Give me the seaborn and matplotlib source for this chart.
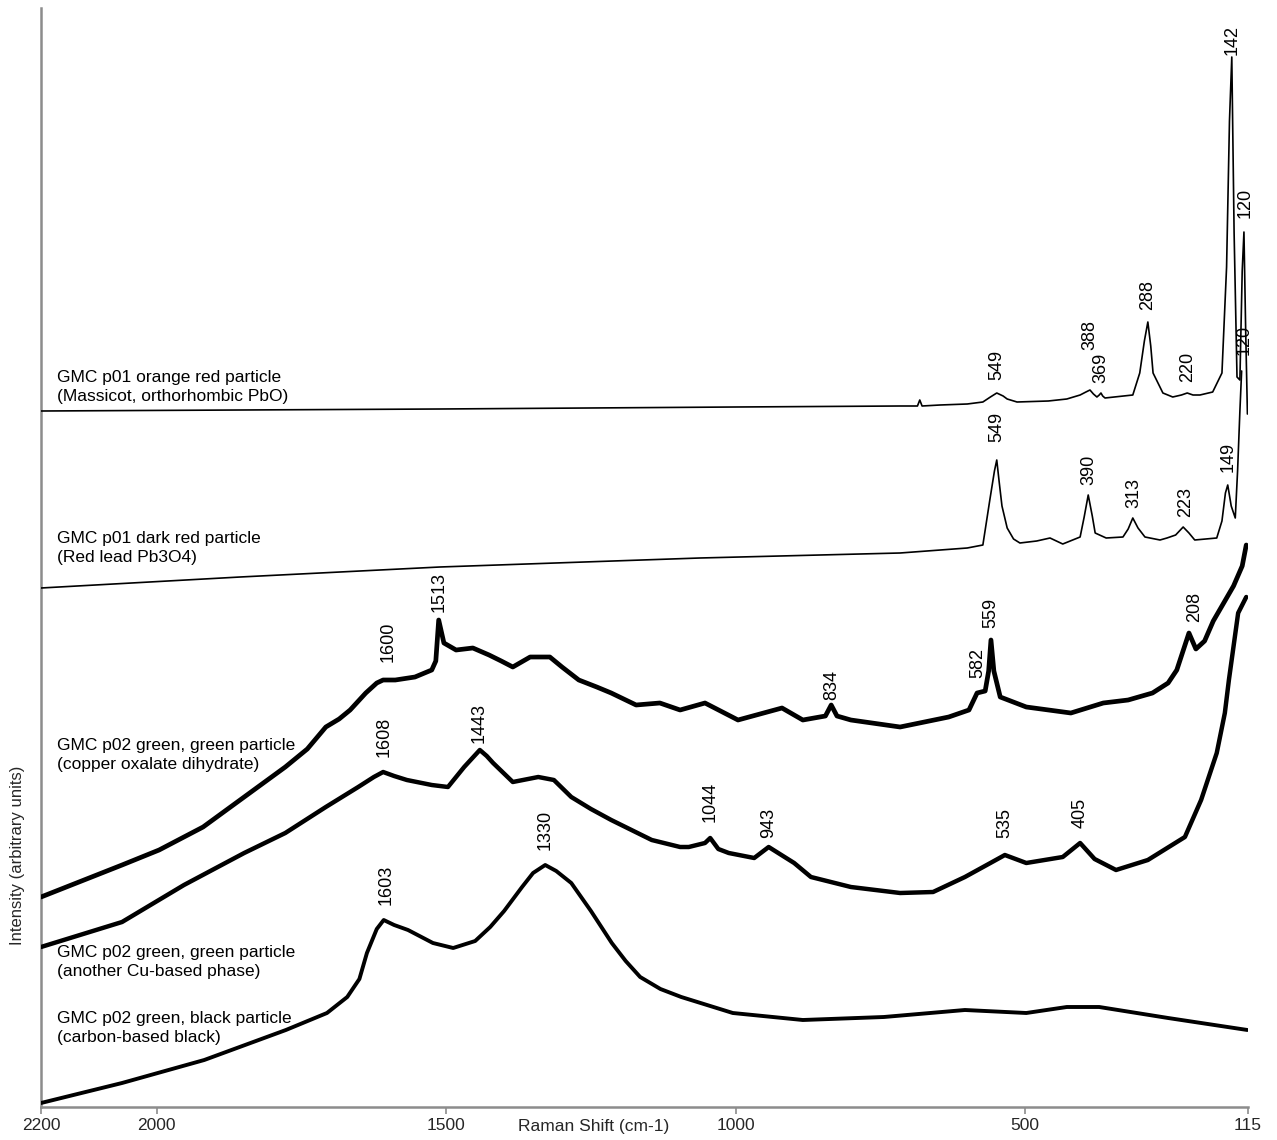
import numpy as np
import pandas as pd
import matplotlib
matplotlib.use("Agg")
import matplotlib.pyplot as plt
import seaborn as sns

# ---------------- data ----------------
# Raman shift (cm-1) and offset intensity (arbitrary units) for each spectrum

# GMC p01 orange red particle (Massicot)
massicot_shift = [2200, 1856, 1511, 1000, 716, 686, 682, 678, 647, 600, 573, 560, 549, 538,
                  531, 514, 460, 428, 405, 395, 388, 382, 376, 372, 369, 366, 362, 314, 302,
                  294, 288, 283, 279, 262, 245, 230, 220, 210, 198, 176, 160, 152, 147, 143,
                  139, 134, 129, 125, 122, 119, 116]
massicot_int = [700, 701, 702, 704, 705, 705, 711, 705, 706, 707, 709, 714, 718, 715,
                712, 709, 710, 712, 716, 719, 721, 717, 714, 716, 718, 715, 713, 716, 738,
                770, 789, 765, 738, 718, 714, 716, 718, 716, 716, 719, 738, 844, 990, 1054,
                878, 734, 731, 840, 879, 780, 697]

# GMC p01 dark red particle (Red lead)
redlead_shift = [2200, 1856, 1511, 1062, 716, 600, 573, 561, 553, 549, 545, 540, 531, 520,
                 509, 480, 457, 435, 405, 398, 391, 384, 379, 360, 331, 322, 314, 305, 293,
                 267, 255, 240, 227, 217, 207, 169, 160, 154, 150, 144, 137, 133, 129, 126]
redlead_int = [523, 534, 544, 553, 558, 563, 566, 611, 640, 651, 630, 605, 583, 572,
               568, 570, 573, 567, 574, 594, 616, 595, 578, 573, 574, 582, 593, 583, 574,
               571, 573, 576, 584, 578, 571, 573, 590, 618, 626, 605, 593, 640, 700, 740]

# GMC p02 green, green particle (copper oxalate dihydrate)
oxalate_shift = [2200, 2060, 1996, 1920, 1849, 1778, 1740, 1708, 1685, 1666, 1639, 1620, 1609,
                 1588, 1554, 1525, 1518, 1513, 1504, 1483, 1454, 1426, 1405, 1385, 1355, 1321,
                 1300, 1271, 1240, 1215, 1172, 1131, 1096, 1053, 996, 920, 884, 845, 835, 825,
                 801, 716, 632, 597, 583, 569, 563, 559, 554, 543, 498, 421, 365, 322, 280,
                 253, 238, 217, 205, 190, 175, 160, 140, 125, 118]
oxalate_int = [214, 246, 261, 284, 314, 344, 362, 384, 392, 401, 418, 428, 431,
               431, 434, 441, 450, 491, 468, 461, 463, 456, 450, 444, 454, 454,
               444, 431, 424, 418, 406, 408, 401, 408, 391, 403, 391, 395, 406, 395,
               391, 384, 394, 401, 418, 420, 440, 471, 440, 414, 404, 398, 408, 411, 418,
               428, 441, 478, 462, 470, 490, 505, 525, 545, 566]

# GMC p02 green, green particle (another Cu-based phase)
cuphase_shift = [2200, 2060, 1953, 1849, 1778, 1708, 1652, 1625, 1609, 1590, 1568, 1525, 1497,
                 1469, 1442, 1430, 1419, 1385, 1341, 1314, 1284, 1250, 1215, 1145, 1096, 1081,
                 1053, 1044, 1030, 1012, 968, 943, 899, 870, 801, 716, 659, 604, 560, 535, 498,
                 435, 405, 380, 343, 288, 224, 196, 169, 155, 148, 132, 118]
cuphase_int = [164, 189, 226, 258, 278, 304, 324, 334, 339, 335, 331, 326, 324,
               344, 361, 355, 348, 329, 334, 331, 314, 302, 291, 271, 264, 264,
               268, 273, 262, 258, 253, 264, 248, 234, 224, 218, 219, 234, 248, 256, 248,
               254, 268, 252, 241, 251, 274, 311, 358, 398, 431, 498, 514]

# GMC p02 green, black particle (carbon-based black)
carbon_shift = [2200, 2060, 1918, 1777, 1706, 1671, 1650, 1637, 1620, 1608, 1590, 1566, 1523,
                1488, 1450, 1424, 1400, 1369, 1350, 1329, 1310, 1284, 1250, 1214, 1190, 1165,
                1130, 1094, 1005, 884, 744, 604, 498, 428, 372, 253, 116]
carbon_int = [8, 28, 51, 81, 98, 114, 132, 158, 182, 191, 186, 181, 168,
              163, 170, 184, 200, 224, 238, 246, 240, 228, 200, 168, 150, 134,
              122, 114, 98, 91, 94, 101, 98, 104, 104, 93, 81]

# peak labels: (label, height of label base)
massicot_peaks = [(549, 731), (388, 761), (369, 728), (288, 801), (220, 729), (142, 1056), (120, 893)]
redlead_peaks = [(549, 669), (390, 626), (313, 603), (223, 594), (149, 639)]
oxalate_peaks = [(1600, 449), (1513, 499), (834, 411), (582, 433), (559, 483), (208, 489)]
cuphase_peaks = [(1608, 354), (1443, 368), (1044, 289), (943, 273), (535, 273), (405, 283)]
carbon_peaks = [(1603, 206), (1330, 261)]

names = ["GMC p01 orange red particle\n(Massicot, orthorhombic PbO)",
         "GMC p01 dark red particle\n(Red lead Pb3O4)",
         "GMC p02 green, green particle\n(copper oxalate dihydrate)",
         "GMC p02 green, green particle\n(another Cu-based phase)",
         "GMC p02 green, black particle\n(carbon-based black)"]

x_ticks = [2200, 2000, 1500, 1000, 500, 115]

# ---------------- figure ----------------
sns.set_theme(style="white")
plt.rcParams['font.family'] = ['Liberation Sans', 'DejaVu Sans']

fig = plt.figure(figsize=(12.77, 11.40), dpi=100)
W, H = 1277, 1140
ax = fig.add_axes([41 / W, (H - 1107) / H, (1248 - 41) / W, (1107 - 8) / H])

spectra = [
    (massicot_shift, massicot_int, massicot_peaks, 1.2, names[0], 741),
    (redlead_shift, redlead_int, redlead_peaks, 1.2, names[1], 580),
    (oxalate_shift, oxalate_int, oxalate_peaks, 3.4, names[2], 373),
    (cuphase_shift, cuphase_int, cuphase_peaks, 3.2, names[3], 166),
    (carbon_shift, carbon_int, carbon_peaks, 2.8, names[4], 100),
]

for shift, inten, peaks, lw, name, ytop in spectra:
    df = pd.DataFrame({"shift": shift, "intensity": inten})
    sns.lineplot(data=df, x="shift", y="intensity", ax=ax, color="black",
                 linewidth=lw, sort=False, estimator=None, zorder=3)
    for lab, yb in peaks:
        ax.text(lab, yb, str(lab), rotation=90, ha="center", va="bottom",
                fontsize=13, color="black", zorder=4)
    ax.text(2172, ytop, name, ha="left", va="top", fontsize=12.5,
            color="black", linespacing=1.3, zorder=2)

# hidden duplicate 120 label under the massicot trace
ax.text(121, 756, "120", rotation=90, ha="center", va="bottom",
        fontsize=13, color="black", zorder=1)

ax.set_xlim(2200, 115)
ax.set_ylim(4, 1103)
ax.set_xticks(x_ticks)
ax.set_xticklabels([str(t) for t in x_ticks])
ax.set_yticks([])
ax.set_xlabel("")
ax.set_ylabel("")
for s in ["top", "right"]:
    ax.spines[s].set_visible(False)
for s in ["left", "bottom"]:
    ax.spines[s].set_color("#8c8c8c")
    ax.spines[s].set_linewidth(1.8)
ax.tick_params(axis="x", direction="out", length=5, width=1.2, color="#8c8c8c",
               labelsize=12.5, pad=3, bottom=True)

fig.text(518 / W, (H - 1127) / H, "Raman Shift (cm-1)", ha="left", va="center", fontsize=12.5)
fig.text(18 / W, (H - 855) / H, "Intensity (arbitrary units)", rotation=90,
         ha="center", va="center", fontsize=12)

fig.savefig("out.png", dpi=100, facecolor="white")
